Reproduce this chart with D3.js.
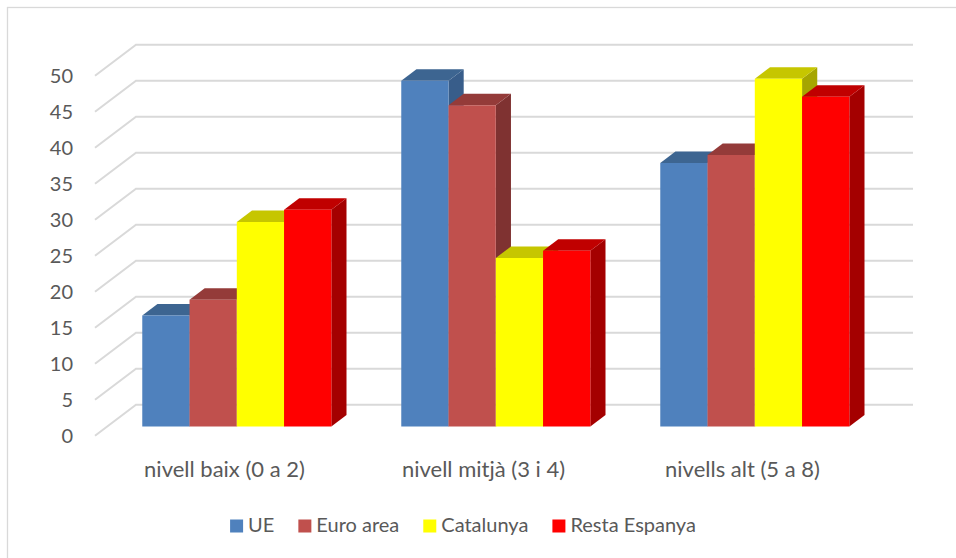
<!DOCTYPE html>
<html>
<head>
<meta charset="utf-8">
<script src="https://cdn.jsdelivr.net/npm/d3@7"></script>
<style>
body { margin: 0; background: #fff; }
text { font-family: Lato, "Open Sans", sans-serif; fill: #595959; }
</style>
</head>
<body>
<div id="chart-area"></div>
<script>
// Nivell de formació per territori (%)
var categories = ["nivell baix (0 a 2)", "nivell mitjà (3 i 4)", "nivells alt (5 a 8)"];
var seriesNames = ["UE", "Euro area", "Catalunya", "Resta Espanya"];
var ue = [15.4, 48.0, 36.6];
var euroArea = [17.6, 44.6, 37.7];
var catalunya = [28.4, 23.4, 48.3];
var restaEspanya = [30.1, 24.4, 45.8];
var yTicks = [0, 5, 10, 15, 20, 25, 30, 35, 40, 45, 50];

var seriesValues = [ue, euroArea, catalunya, restaEspanya];

// front, top, side
var colors = {
    "UE": ["#4f81bd", "#3d6591", "#385d8a"],
    "Euro area": ["#c0504d", "#943b39", "#7f3231"],
    "Catalunya": ["#ffff00", "#c6c600", "#a6a600"],
    "Resta Espanya": ["#ff0000", "#c00000", "#a40000"]
};

var width = 956, height = 558;

var svg = d3.select("#chart-area").append("svg")
    .attr("width", width)
    .attr("height", height);

// chart border
svg.append("rect")
    .attr("x", 7.5)
    .attr("y", 7.5)
    .attr("width", 1000)
    .attr("height", 600)
    .attr("fill", "none")
    .attr("stroke", "#d9d9d9")
    .attr("stroke-width", 1.3);

var x0 = d3.scaleBand().domain(categories).range([95, 872]).paddingInner(0.27).paddingOuter(0.135);
var x1 = d3.scaleBand().domain(seriesNames).range([0, x0.bandwidth()]);
var y = d3.scaleLinear().domain([0, 50]).range([435.7, 75.7]);
// depth of the 3D box: 0 = front, 1 = back wall
var depthX = d3.scaleLinear().domain([0, 1]).range([0, 41]);
var depthY = d3.scaleLinear().domain([0, 1]).range([0, -31]);

function P(px, v, t) {
    return [px + depthX(t), y(v) + depthY(t)];
}
var line = d3.line();

var plotLeft = x0.range()[0], plotRight = x0.range()[1];

// gridlines on side and back wall
svg.append("g").selectAll("path")
    .data(yTicks)
    .enter().append("path")
    .attr("d", (d) => line([P(plotLeft, d, 0), P(plotLeft, d, 1), P(plotRight, d, 1)]))
    .attr("fill", "none")
    .attr("stroke", "#d9d9d9")
    .attr("stroke-width", 2);

// Y labels
svg.append("g").selectAll("text")
    .data(yTicks)
    .enter().append("text")
    .attr("x", 73)
    .attr("y", (d) => y(d))
    .attr("dy", "0.36em")
    .attr("text-anchor", "end")
    .attr("font-size", "20px")
    .text((d) => d);

// bars
var t0 = 0.3, t1 = 0.67;
var bars = [];
categories.forEach((c, i) => {
    seriesNames.forEach((s, j) => {
        bars.push({cat: c, series: s, value: seriesValues[j][i]});
    });
});

var barG = svg.append("g").selectAll("g")
    .data(bars)
    .enter().append("g");

barG.append("path")
    .attr("d", (d) => {
        var xr = x0(d.cat) + x1(d.series) + x1.bandwidth();
        return line([P(xr, 0, t0), P(xr, 0, t1), P(xr, d.value, t1), P(xr, d.value, t0)]) + "Z";
    })
    .attr("fill", (d) => colors[d.series][2]);

barG.append("path")
    .attr("d", (d) => {
        var xl = x0(d.cat) + x1(d.series), xr = xl + x1.bandwidth();
        return line([P(xl, d.value, t0), P(xr, d.value, t0), P(xr, d.value, t1), P(xl, d.value, t1)]) + "Z";
    })
    .attr("fill", (d) => colors[d.series][1]);

barG.append("path")
    .attr("d", (d) => {
        var xl = x0(d.cat) + x1(d.series), xr = xl + x1.bandwidth();
        return line([P(xl, 0, t0), P(xr, 0, t0), P(xr, d.value, t0), P(xl, d.value, t0)]) + "Z";
    })
    .attr("fill", (d) => colors[d.series][0]);

// X labels
svg.append("g").selectAll("text")
    .data(categories)
    .enter().append("text")
    .attr("x", (d) => x0(d) + x0.bandwidth() / 2)
    .attr("y", 476.5)
    .attr("text-anchor", "middle")
    .attr("font-size", "22px")
    .text((d) => d);

// legend
var legend = svg.append("g");
var items = legend.selectAll("g")
    .data(seriesNames)
    .enter().append("g");
items.append("rect")
    .attr("width", 13)
    .attr("height", 13)
    .attr("y", 519.5)
    .attr("fill", (d) => colors[d][0]);
items.append("text")
    .attr("x", 18)
    .attr("y", 532)
    .attr("font-size", "20px")
    .text((d) => d);

var pos = 0;
items.each(function() {
    var w = d3.select(this).select("text").node().getComputedTextLength();
    d3.select(this).attr("data-x", pos);
    pos += 18 + w + 24;
});
var total = pos - 24;
var start = 463 - total / 2;
items.attr("transform", function() {
    return "translate(" + (start + (+d3.select(this).attr("data-x"))) + ",0)";
});
</script>
</body>
</html>
